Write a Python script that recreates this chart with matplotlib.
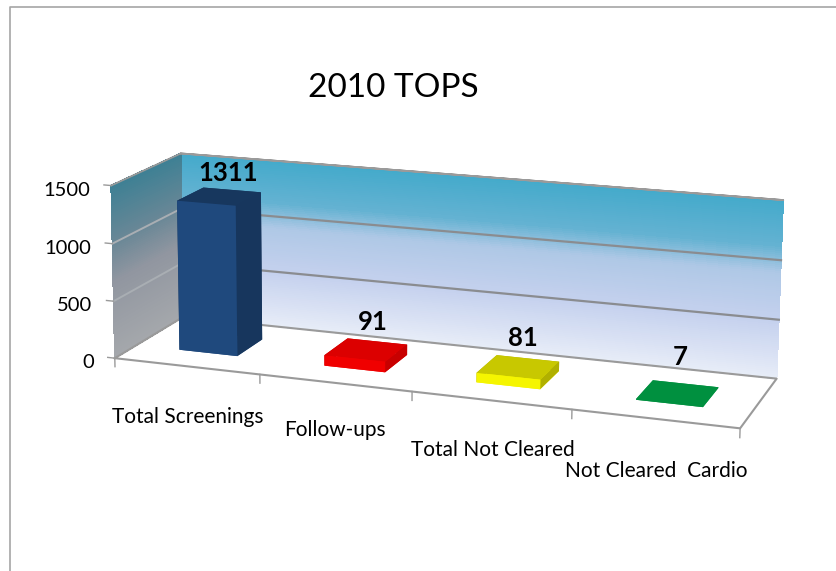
import numpy as np
import matplotlib
matplotlib.use("Agg")
import matplotlib.pyplot as plt
from mpl_toolkits.mplot3d import Axes3D

plt.rcParams['font.family'] = ['Lato', 'DejaVu Sans']

TITLE = "2010 TOPS"
categories = ["Total Screenings", "Follow-ups", "Total Not Cleared", "Not Cleared  Cardio"]
values = [1311, 91, 81, 7]
value_ticks = [0, 500, 1000, 1500]
front_colors = ["#1F497D", "#F00000", "#F5F500", "#00903F"]
side_colors = ["#17365D", "#C80000", "#B0B000", "#00903F"]
top_colors = ["#17375E", "#DC0000", "#C8C800", "#00903F"]

W, H = 836, 571
fig = plt.figure(figsize=(W / 100, H / 100), dpi=100, facecolor="white")
ax = fig.add_axes([0, 0, 1, 1], projection="3d", computed_zorder=False)
ax.set_position([0, 0, 1, 1])
ax.apply_aspect = lambda position=None: None
ax.set_axis_off()
ax.patch.set_alpha(0)

# Camera of the picture: fitted from where the plot box's corners fall on the canvas
box_3d = np.array([[0, 0, 0], [4, 0, 0], [0, 1, 0], [4, 1, 0],
                   [0, 1, 1500], [4, 1, 1500], [0, 0, 1500]], float)
box_px = np.array([[117, 359], [740, 428], [181, 316], [777, 379],
                   [183, 154], [783, 200], [109, 185]], float)
rows, rhs = [], []
for (x, y, z), (u, v) in zip(box_3d, box_px):
    v = H - v
    rows.append([x, y, z, 1, 0, 0, 0, 0, -u * x, -u * y, -u * z]); rhs.append(u)
    rows.append([0, 0, 0, 0, x, y, z, 1, -v * x, -v * y, -v * z]); rhs.append(v)
sol = np.linalg.lstsq(np.array(rows), np.array(rhs), rcond=None)[0]
P = np.array([sol[:4], sol[4:8], [*sol[8:11], 1.0]])
DEPTH = np.array([-0.1, 1.0, -0.0003, -20.0])


def get_proj():
    A = ax.transData.inverted().get_matrix()
    Q = A @ P
    return np.array([Q[0], Q[1], DEPTH, P[2]])


ax.get_proj = get_proj


def text3d(x, y, z, s, **kw):
    # A plain figure text placed where the camera puts the 3D point
    u, v, w = P @ np.array([x, y, z, 1.0])
    return fig.text(u / w / W, v / w / H, s, **kw)


# Walls
NSTEP = 90
stops_back = [(0.0, (232, 237, 248)), (0.33, (197, 209, 238)), (0.60, (175, 200, 230)),
              (0.67, (140, 190, 220)), (0.75, (100, 178, 210)), (1.0, (68, 170, 203))]
stops_left = [(0.0, (165, 168, 172)), (0.45, (145, 150, 160)), (0.68, (105, 135, 150)),
              (1.0, (62, 128, 148))]


def ramp(stops, t):
    ts = [s[0] for s in stops]
    return np.array([np.interp(t, ts, [s[1][i] for s in stops]) / 255 for i in range(3)] + [1.0])


zz = np.linspace(0, 1500, NSTEP + 1)
tt = (zz[:-1] + zz[1:]) / 2 / 1500
X, Z = np.meshgrid([0, 4], zz)
ax.plot_surface(X, np.ones_like(X), Z, rstride=1, cstride=1, shade=False, linewidth=0.4,
                antialiased=False,
                facecolors=np.array([[ramp(stops_back, t)] for t in tt]), zorder=1)
Y, Z = np.meshgrid([0, 1], zz)
ax.plot_surface(np.zeros_like(Y), Y, Z, rstride=1, cstride=1, shade=False, linewidth=0.4,
                antialiased=False,
                facecolors=np.array([[ramp(stops_left, t)] for t in tt]), zorder=1)

# Gridlines and box edges
GRID = "#8A8C90"
for v in value_ticks[1:3]:
    ax.plot([0, 4], [1, 1], [v, v], color=GRID, lw=1.6, zorder=2)
    ax.plot([0, 0], [0, 1], [v, v], color="#A9AEB3", lw=1.4, zorder=2)
EDGE = "#9A9A9A"
ax.plot([0, 4, 4, 0, 0], [0, 0, 1, 1, 0], [0, 0, 0, 0, 0], color=EDGE, lw=1.5, zorder=2)
ax.plot([0, 4, 0, 0], [1, 1, 1, 0], [1500, 1500, 1500, 1500], color=EDGE, lw=1.3, zorder=2)
for i in range(5):
    ax.plot([i, i], [0, 0], [0, -75], color=EDGE, lw=1.0, zorder=2)
for v in value_ticks:
    ax.plot([0, -0.05], [0, 0], [v, v], color=EDGE, lw=1.0, zorder=2)
    text3d(-0.15, 0, v - 55, str(v), ha="right", va="center", fontsize=14.5, color="black")

# Bars
BAR_X = 0.305
BAR_W = 0.405
BAR_Y = 0.305
BAR_D = 0.39
for i, val in enumerate(values):
    ax.bar3d(i + BAR_X, BAR_Y, 0, BAR_W, BAR_D, val, shade=False, zorder=3 + i * 0.1,
             color=[front_colors[i], top_colors[i], front_colors[i],
                    side_colors[i], side_colors[i], side_colors[i]])

# Data labels
label_dx = [0.066, 0.046, 0.026, 0.013]
label_dz = [207, 253, 249, 304]
for i, val in enumerate(values):
    text3d(i + BAR_X + BAR_W / 2 + label_dx[i], BAR_Y + BAR_D / 2, val + label_dz[i], str(val),
           ha="center", va="center", fontsize=18.5, fontweight="bold", color="black")

ax.set_xticks([])
ax.set_yticks([])
ax.set_zticks([])

# Category labels, stepped down along the front edge
label_px = [(188, 417), (335, 430), (493, 450), (656, 471)]
for name, (px, py) in zip(categories, label_px):
    fig.text(px / W, 1 - py / H, name, ha="center", va="center", fontsize=15, color="black")

fig.text(393 / W, 1 - 88 / H, TITLE, ha="center", va="center", fontsize=24, color="black")

# Chart frame: only its top and left edges are in the picture
fig.add_artist(plt.Line2D([9.5 / W, 9.5 / W, 1], [0, 1 - 6.8 / H, 1 - 6.8 / H],
                          transform=fig.transFigure, color="#A6A6A6", lw=1.2))

fig.savefig("out.png", dpi=100, facecolor="white")
